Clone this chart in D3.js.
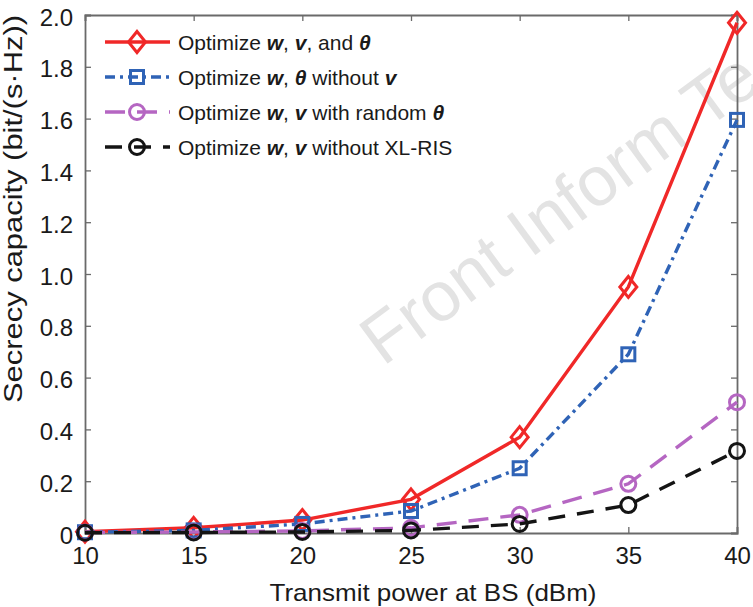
<!DOCTYPE html>
<html>
<head>
<meta charset="utf-8">
<script src="https://cdn.jsdelivr.net/npm/d3@7"></script>
<style>
  body { margin: 0; background: #fff; }
  text { font-family: "Liberation Sans", Arial, sans-serif; fill: #1a1a1a; }
</style>
</head>
<body>
<svg id="chart" width="753" height="607"></svg>
<script>
var powerDbm = [10, 15, 20, 25, 30, 35, 40];
var optAll = [0.005, 0.02, 0.05, 0.13, 0.37, 0.95, 1.97];
var optNoV = [0.003, 0.01, 0.035, 0.085, 0.25, 0.69, 1.595];
var optRandTheta = [0.002, 0.004, 0.008, 0.02, 0.07, 0.19, 0.505];
var optNoRis = [0.001, 0.002, 0.004, 0.01, 0.035, 0.108, 0.317];
var xTicks = [10, 15, 20, 25, 30, 35, 40];
var yTicks = [0, 0.2, 0.4, 0.6, 0.8, 1.0, 1.2, 1.4, 1.6, 1.8, 2.0];

var series = [
    { name: 'all', vals: optAll, color: '#f02828', dash: null, marker: 'diamond',
      label: [['Optimize ', 0], ['w', 1], [', ', 0], ['v', 1], [', and ', 0], ['θ', 1]] },
    { name: 'noV', vals: optNoV, color: '#2f63b6', dash: '10,5,3,5', marker: 'square',
      label: [['Optimize ', 0], ['w', 1], [', ', 0], ['θ', 1], [' without ', 0], ['v', 1]] },
    { name: 'rand', vals: optRandTheta, color: '#b566c2', dash: '20,12', marker: 'circle',
      label: [['Optimize ', 0], ['w', 1], [', ', 0], ['v', 1], [' with random ', 0], ['θ', 1]] },
    { name: 'noRis', vals: optNoRis, color: '#141414', dash: '17,12', marker: 'circle',
      label: [['Optimize ', 0], ['w', 1], [', ', 0], ['v', 1], [' without XL-RIS', 0]] }
];

var svg = d3.select('#chart');
var plotLeft = 85, plotRight = 737, plotTop = 15, plotBottom = 533;

var x = d3.scaleLinear().domain([10, 40]).range([plotLeft, plotRight]);
var y = d3.scaleLinear().domain([0, 2]).range([plotBottom, plotTop]);

// watermark
svg.append('text')
    .attr('transform', 'translate(383,367) rotate(-36.3)')
    .style('font-size', '70px')
    .style('fill', '#e3e3e3')
    .text('Front Inform Te');

// axes (box with inward ticks)
var axisColor = '#6a6a6a';
var gx = svg.append('g').attr('transform', 'translate(0,' + plotBottom + ')')
    .call(d3.axisBottom(x).tickValues(xTicks).tickSize(-6).tickPadding(14).tickFormat(d3.format('d')));
var gxTop = svg.append('g').attr('transform', 'translate(0,' + plotTop + ')')
    .call(d3.axisTop(x).tickValues(xTicks).tickSize(-6).tickFormat(''));
var gy = svg.append('g').attr('transform', 'translate(' + plotLeft + ',0)')
    .call(d3.axisLeft(y).tickValues(yTicks).tickSize(-6).tickPadding(12)
        .tickFormat(function(d) { return d === 0 ? '0' : d.toFixed(1); }));
var gyRight = svg.append('g').attr('transform', 'translate(' + plotRight + ',0)')
    .call(d3.axisRight(y).tickValues(yTicks).tickSize(-6).tickFormat(''));

[gx, gxTop, gy, gyRight].forEach(function(g) {
    g.select('.domain').attr('stroke', axisColor).attr('stroke-width', 1.8);
    g.selectAll('.tick line').attr('stroke', axisColor).attr('stroke-width', 1.3);
    g.selectAll('.tick text').style('font-size', '24px').attr('fill', '#1a1a1a')
        .style('font-family', '"Liberation Sans", Arial, sans-serif');
});
gy.selectAll('.tick text').attr('dy', '0.42em');

// axis labels
svg.append('text')
    .attr('x', 433).attr('y', 601)
    .attr('text-anchor', 'middle')
    .attr('textLength', 327).attr('lengthAdjust', 'spacingAndGlyphs')
    .style('font-size', '24px')
    .text('Transmit power at BS (dBm)');

svg.append('text')
    .attr('transform', 'translate(22,209) rotate(-90)')
    .attr('text-anchor', 'middle')
    .attr('textLength', 388).attr('lengthAdjust', 'spacingAndGlyphs')
    .style('font-size', '25px')
    .text('Secrecy capacity (bit/(s·Hz))');

function drawMarker(g, type, cx, cy, color) {
    if (type === 'diamond') {
        g.append('path')
            .attr('d', 'M' + cx + ',' + (cy - 10.5) + 'L' + (cx + 8.5) + ',' + cy + 'L' + cx + ',' + (cy + 10.5) + 'L' + (cx - 8.5) + ',' + cy + 'Z')
            .attr('fill', 'none').attr('stroke', color).attr('stroke-width', 3);
    } else if (type === 'square') {
        g.append('rect').attr('x', cx - 6.5).attr('y', cy - 6.5).attr('width', 13).attr('height', 13)
            .attr('fill', 'none').attr('stroke', color).attr('stroke-width', 3);
    } else {
        g.append('circle').attr('cx', cx).attr('cy', cy).attr('r', 7.5)
            .attr('fill', 'none').attr('stroke', color).attr('stroke-width', 3);
    }
}

var line = d3.line()
    .x(function(d) { return x(d[0]); })
    .y(function(d) { return y(d[1]); });

series.forEach(function(s) {
    var pts = powerDbm.map(function(p, i) { return [p, s.vals[i]]; });
    var g = svg.append('g');
    g.append('path')
        .datum(pts)
        .attr('d', line)
        .attr('fill', 'none')
        .attr('stroke', s.color)
        .attr('stroke-width', 3.4)
        .attr('stroke-dasharray', s.dash);
    pts.forEach(function(p) {
        drawMarker(g, s.marker, x(p[0]), y(p[1]), s.color);
    });
});

// legend
var legendRows = [42, 77, 112, 147];
series.forEach(function(s, i) {
    var ly = legendRows[i];
    var g = svg.append('g');
    g.append('line')
        .attr('x1', 105).attr('x2', 170).attr('y1', ly).attr('y2', ly)
        .attr('stroke', s.color).attr('stroke-width', 3.4)
        .attr('stroke-dasharray', s.dash);
    drawMarker(g, s.marker, 137, ly, s.color);
    var t = g.append('text')
        .attr('x', 178).attr('y', ly)
        .attr('dy', '0.36em')
        .style('font-size', '21px');
    s.label.forEach(function(part) {
        var ts = t.append('tspan').text(part[0]);
        if (part[1]) ts.style('font-weight', 'bold').style('font-style', 'italic');
    });
});
</script>
</body>
</html>
